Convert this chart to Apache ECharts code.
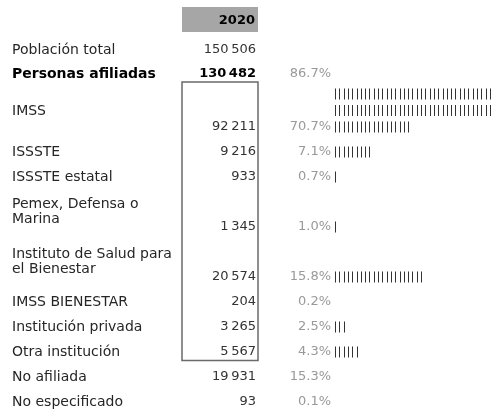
<!DOCTYPE html>
<html>
<head>
<meta charset="utf-8">
<script src="https://cdn.jsdelivr.net/npm/echarts@6/dist/echarts.min.js"></script>
<style>
html,body{margin:0;padding:0;background:#fff;}
#chart{width:498px;height:411px;}
</style>
</head>
<body>
<div id="chart"></div>
<script>
/*datos de la tabla*/
var yearLabel = '2020';
var categories = [
	'Población total',
	'Personas afiliadas',
	'IMSS',
	'ISSSTE',
	'ISSSTE estatal',
	'Pemex, Defensa o\nMarina',
	'Instituto de Salud para\nel Bienestar',
	'IMSS BIENESTAR',
	'Institución privada',
	'Otra institución',
	'No afiliada',
	'No especificado'
];
var values2020 = [150506, 130482, 92211, 9216, 933, 1345, 20574, 204, 3265, 5567, 19931, 93];
var percentages = [null, 86.7, 70.7, 7.1, 0.7, 1.0, 15.8, 0.2, 2.5, 4.3, 15.3, 0.1];
var firstInstitution = 2, lastInstitution = 9;//filas dentro del recuadro

/*layout*/
var FONT = '"DejaVu Sans", sans-serif';
var PIPE_STEP = 4.3, PIPES_PER_LINE = 37, PIPE_LINE_GAP = 16.5;
var headerTop = 7, headerBottom = 32;
var colLeft = 182, colRight = 258;

function pipeCount(i) {
	if (i < firstInstitution || i > lastInstitution) return 0;
	return Math.round(values2020[i] / 1000);
}

function fmt(v) {
	return String(v).replace(/\B(?=(\d{3})+(?!\d))/g, '\u2009');
}

// alto de cada fila segun lineas de texto / barras
var rowTops = [], rowBottoms = [];
(function () {
	var y = headerBottom;
	for (var i = 0; i < categories.length; i++) {
		var lines = Math.max(categories[i].split('\n').length, Math.ceil(pipeCount(i) / PIPES_PER_LINE));
		var h = lines === 1 ? 25 : (lines === 2 ? 50 : 53);
		if (i === 1) h = 24;
		rowTops.push(y);
		y += h;
		rowBottoms.push(y);
	}
})();

function renderRow(params, api) {
	var i = api.value(0);
	var bottom = rowBottoms[i], top = rowTops[i];
	var bold = i === 1;
	var baseY = api.coord([0, bottom - 7])[1];
	var children = [];

	var lbl = api.coord([12, (top + bottom) / 2 + (categories[i].indexOf('\n') >= 0 ? 3 : 4)]);
	if (bottom - top < 30) lbl[1] = baseY;
	children.push({
		type: 'text',
		style: {
			text: categories[i], x: lbl[0], y: lbl[1],
			fill: bold ? '#000' : '#262626',
			font: (bold ? 'bold ' : '') + '14px ' + FONT,
			align: 'left', verticalAlign: 'middle', lineHeight: 15
		}
	});

	var vp = api.coord([colRight - 2, 0]);
	children.push({
		type: 'text',
		style: {
			text: fmt(values2020[i]), x: vp[0], y: baseY,
			fill: bold ? '#000' : '#333',
			font: (bold ? 'bold ' : '') + '13px ' + FONT,
			align: 'right', verticalAlign: 'middle'
		}
	});

	if (percentages[i] != null) {
		var pp = api.coord([331, 0]);
		children.push({
			type: 'text',
			style: {
				text: percentages[i].toFixed(1) + '%', x: pp[0], y: baseY,
				fill: '#999', font: '13px ' + FONT,
				align: 'right', verticalAlign: 'middle'
			}
		});
	}

	var n = pipeCount(i);
	var lines = Math.ceil(n / PIPES_PER_LINE);
	for (var k = 0; k < n; k++) {
		var line = Math.floor(k / PIPES_PER_LINE), col = k % PIPES_PER_LINE;
		var p = api.coord([335 + col * PIPE_STEP, 0]);
		var cy = baseY - (lines - 1 - line) * PIPE_LINE_GAP;
		children.push({
			type: 'rect',
			shape: { x: Math.round(p[0]), y: cy - 5.5, width: 1, height: 11 },
			style: { fill: '#333' }
		});
	}
	return { type: 'group', children: children };
}

function renderFrame(params, api) {
	var h0 = api.coord([colLeft, headerTop]);
	var h1 = api.coord([colRight, headerBottom]);
	var b0 = api.coord([colLeft, rowBottoms[firstInstitution - 1] + 1]);
	var b1 = api.coord([colRight, rowBottoms[lastInstitution] + 1.5]);
	return {
		type: 'group',
		children: [
			{ type: 'rect', shape: { x: h0[0], y: h0[1], width: h1[0] - h0[0], height: h1[1] - h0[1] }, style: { fill: '#a6a6a6' } },
			{ type: 'text', style: { text: yearLabel, x: h1[0] - 3, y: (h0[1] + h1[1]) / 2 + 1, fill: '#000', font: 'bold 13px ' + FONT, align: 'right', verticalAlign: 'middle' } },
			{ type: 'rect', shape: { x: b0[0], y: b0[1], width: b1[0] - b0[0], height: b1[1] - b0[1] }, style: { fill: null, stroke: '#6a6a6a', lineWidth: 1.5 } }
		]
	};
}

var myChart = echarts.init(document.getElementById('chart'));
var rowData = categories.map(function (c, i) { return [i]; });
myChart.setOption({
	animation: false,
	grid: { left: 0, right: 0, top: 0, bottom: 0 },
	xAxis: { type: 'value', min: 0, max: 498, show: false },
	yAxis: { type: 'value', min: 0, max: 411, inverse: true, show: false },
	series: [
		{ type: 'custom', renderItem: renderFrame, data: [[0]], silent: true },
		{ type: 'custom', renderItem: renderRow, data: rowData, silent: true }
	]
});
</script>
</body>
</html>
